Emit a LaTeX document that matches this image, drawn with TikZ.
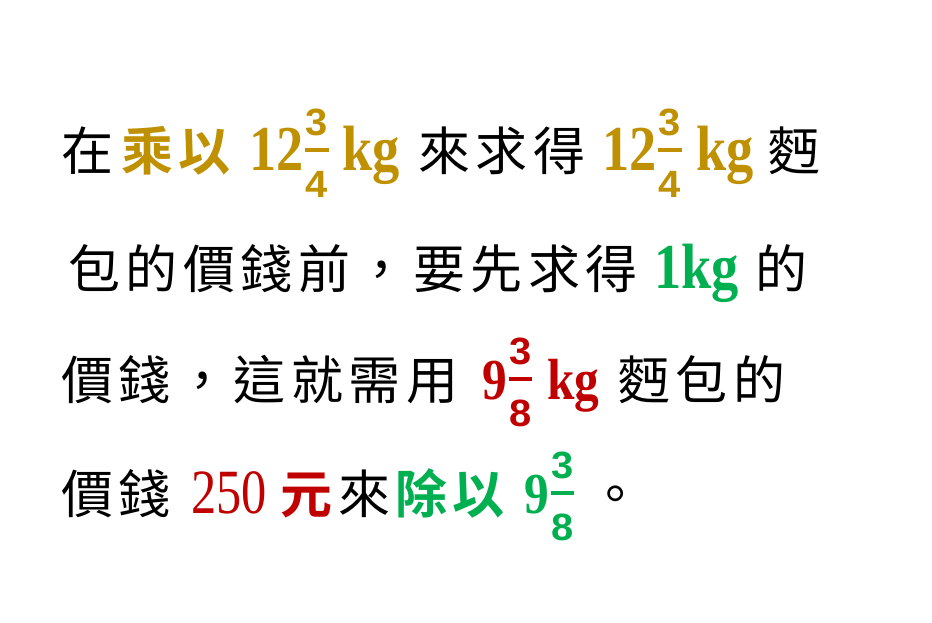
\documentclass[tikz,border=0pt]{standalone}
\usepackage{xcolor}
\usepackage{fontspec}
\usepackage{tikz}
\usetikzlibrary{positioning}

\newfontfamily\cjkfont{Noto Sans CJK TC}[LetterSpace=10.5, BoldFont={Noto Sans CJK TC Bold}]
\newfontfamily\numfont{Liberation Serif}[FakeStretch=0.85]
\newfontfamily\numregfont{Liberation Serif}[FakeStretch=0.8]
\newfontfamily\fracfont{Liberation Sans}[FakeStretch=1.05]

\definecolor{GoldTxt}{HTML}{BF9000}
\definecolor{RedTxt}{HTML}{C00000}
\definecolor{GreenTxt}{HTML}{00B050}

% stacked fraction: numerator, bar, denominator
\newcommand{\mixfrac}[2]{%
  \begingroup\fracfont\bfseries\fontsize{19pt}{19pt}\selectfont
  \setbox0=\hbox{#1}\setbox2=\hbox{#2}%
  \dimen0=\wd0 \ifdim\wd2>\dimen0 \dimen0=\wd2\fi
  \advance\dimen0 by 0.5pt
  \kern0.8pt
  \raisebox{17.5pt}{\hbox to\dimen0{\hss\box0\hss}}\kern-\dimen0
  \raisebox{9.1pt}{\rule{\dimen0}{1.8pt}}\kern-\dimen0
  \raisebox{-13.5pt}{\hbox to\dimen0{\hss\box2\hss}}%
  \endgroup}

\begin{document}
\begin{tikzpicture}[x=0.5pt, y=-0.5pt,
		TextNode/.style={inner sep=0pt, anchor=base west},
		HanText/.style={TextNode, font=\cjkfont\fontsize{26pt}{26pt}\selectfont},
		HanBold/.style={HanText, font=\cjkfont\bfseries\fontsize{26pt}{26pt}\selectfont},
		NumBig/.style={TextNode, font=\numfont\bfseries\fontsize{32pt}{32pt}\selectfont},
		NumMid/.style={TextNode, font=\numfont\bfseries\fontsize{29pt}{29pt}\selectfont},
		NumPlain/.style={TextNode, font=\numregfont\fontsize{31.5pt}{31.5pt}\selectfont}]

			\useasboundingbox[fill=white] (0,0) rectangle (932,622);

			% Line 1
			\node[HanText] (Zai) at (61,170) {在};
			\node[HanBold, GoldTxt] (Cheng) at (121,170) {乘以};
			\node[NumBig, GoldTxt] (MixA) at (249,170) {12\mixfrac{3}{4}};
			\node[NumBig, GoldTxt] (KgA) at (342,170) {kg};
			\node[HanText] (Qiu) at (418,170) {來求得};
			\node[NumBig, GoldTxt] (MixB) at (602,170) {12\mixfrac{3}{4}};
			\node[NumBig, GoldTxt] (KgB) at (696,170) {kg};
			\node[HanText] (Mian) at (768,170) {麪};

			% Line 2
			\node[HanText] (Bao) at (68,288) {包的價錢前，要先求得};
			\node[NumBig, GreenTxt] (OneKg) at (654,288) {1kg};
			\node[HanText] (De) at (755,288) {的};

			% Line 3
			\node[HanText] (Jia) at (61,399) {價錢，這就需用};
			\node[NumMid, RedTxt] (MixC) at (482,399) {9\mixfrac{3}{8}};
			\node[NumMid, RedTxt] (KgC) at (547,399) {kg};
			\node[HanText] (MianBao) at (618,399) {麪包的};

			% Line 4
			\node[HanText] (JiaQian) at (61,513) {價錢};
			\node[NumPlain, RedTxt] (Price) at (191,513) {250};
			\node[HanBold, RedTxt] (Yuan) at (280,513) {元};
			\node[HanText] (Lai) at (338,513) {來};
			\node[HanBold, GreenTxt] (Chu) at (395,513) {除以};
			\node[NumMid, GreenTxt] (MixD) at (524,513) {9\mixfrac{3}{8}};
			\node[HanText] (Dot) at (589,513) {。};
		\end{tikzpicture}
\end{document}
